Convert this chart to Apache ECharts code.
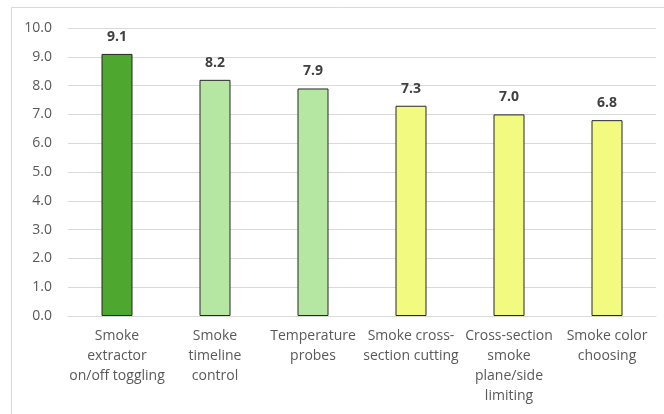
<!DOCTYPE html>
<html>
<head>
<meta charset="utf-8">
<script src="https://cdn.jsdelivr.net/npm/echarts@6/dist/echarts.min.js"></script>
<style>
  html, body { margin: 0; padding: 0; background: #ffffff; }
  #chart { width: 664px; height: 414px; }
</style>
</head>
<body>
<div id="chart"></div>
<script>
// Feature ratings, one bar per feature
const categories = [
  'Smoke\nextractor\non/off toggling',
  'Smoke\ntimeline\ncontrol',
  'Temperature\nprobes',
  'Smoke cross-\nsection cutting',
  'Cross-section\nsmoke\nplane/side\nlimiting',
  'Smoke color\nchoosing'
];
const scores = [9.1, 8.2, 7.9, 7.3, 7.0, 6.8];
const barColors = ['#4EA72E', '#B5E6A2', '#B5E6A2', '#F2FA80', '#F2FA80', '#F2FA80'];

const chart = echarts.init(document.getElementById('chart'));
chart.setOption({
  animation: false,
  graphic: [{
    type: 'rect',
    shape: { x: 11.5, y: 7.5, width: 700, height: 500 },
    style: { fill: 'none', stroke: '#d9d9d9', lineWidth: 1 },
    silent: true
  }],
  grid: { left: 68, right: 8, top: 28, bottom: 98 },
  xAxis: {
    type: 'category',
    data: categories,
    axisLine: { lineStyle: { color: '#d9d9d9', width: 1 } },
    axisTick: { show: false },
    axisLabel: {
      interval: 0,
      color: '#595959',
      fontFamily: 'Open Sans',
      fontSize: 14,
      lineHeight: 20,
      margin: 10
    }
  },
  yAxis: {
    type: 'value',
    min: 0,
    max: 10,
    interval: 1,
    axisLine: { show: false },
    axisTick: { show: false },
    splitLine: { lineStyle: { color: '#d9d9d9', width: 1 } },
    axisLabel: {
      color: '#595959',
      fontFamily: 'Open Sans',
      fontSize: 14,
      margin: 16,
      formatter: v => v.toFixed(1)
    }
  },
  series: [{
    type: 'bar',
    barWidth: 31,
    data: scores.map((v, i) => ({
      value: v,
      itemStyle: { color: barColors[i], borderColor: '#262626', borderWidth: 1 }
    })),
    label: {
      show: true,
      position: 'top',
      distance: 10,
      color: '#404040',
      fontFamily: 'Open Sans',
      fontWeight: 'bold',
      fontSize: 14,
      formatter: p => p.value.toFixed(1)
    }
  }]
});
</script>
</body>
</html>
